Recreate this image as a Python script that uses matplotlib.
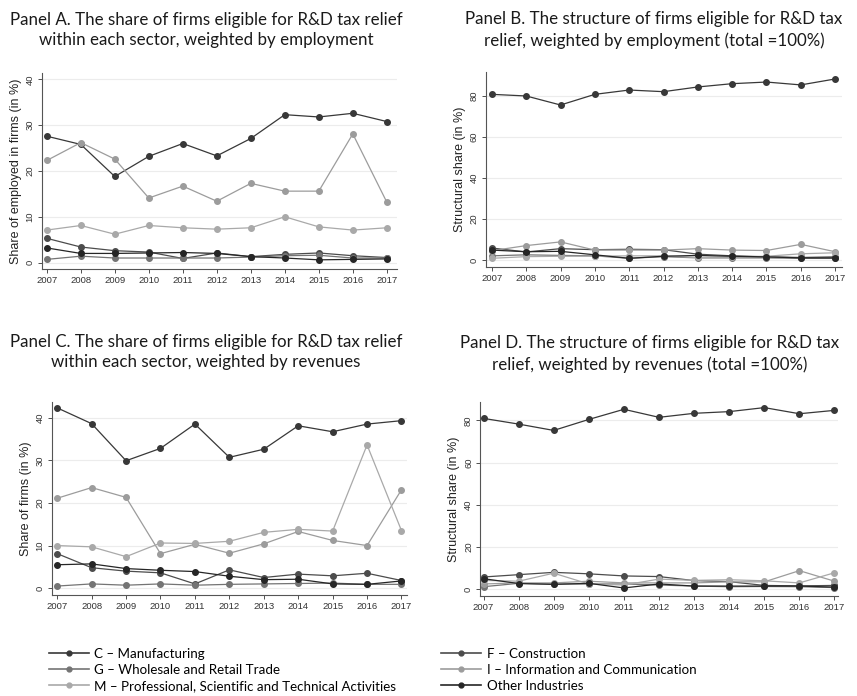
import matplotlib
matplotlib.use("Agg")
import matplotlib.pyplot as plt
from matplotlib.lines import Line2D

W, H = 857, 696
years = list(range(2007, 2018))

sectors = ["C – Manufacturing", "F – Construction", "G – Wholesale and Retail Trade",
           "I – Information and Communication",
           "M – Professional, Scientific and Technical Activities", "Other Industries"]
colors = ["#383838", "#4c4c4c", "#747474", "#9c9c9c", "#a9a9a9", "#262626"]

# Panel A: share within sector, weighted by employment
a_C = [27.6, 25.8, 18.8, 23.2, 26.0, 23.3, 27.1, 32.3, 31.8, 32.6, 30.8]
a_F = [5.3, 3.4, 2.6, 2.3, 0.9, 2.1, 1.3, 1.8, 2.1, 1.5, 1.1]
a_G = [0.7, 1.4, 1.0, 1.0, 1.0, 1.0, 1.2, 1.5, 1.6, 1.0, 1.0]
a_I = [22.3, 26.2, 22.6, 14.1, 16.7, 13.4, 17.3, 15.6, 15.6, 28.1, 13.2]
a_M = [7.1, 8.1, 6.2, 8.1, 7.6, 7.3, 7.6, 10.0, 7.8, 7.1, 7.6]
a_O = [3.2, 2.0, 2.0, 2.1, 2.2, 2.0, 1.3, 1.0, 0.6, 0.7, 0.8]

# Panel B: structure, weighted by employment
b_C = [80.8, 80.0, 75.6, 80.8, 82.9, 82.1, 84.4, 86.0, 86.8, 85.4, 88.3]
b_F = [5.8, 3.9, 5.5, 5.0, 5.2, 5.0, 2.8, 2.0, 1.5, 1.2, 1.5]
b_G = [2.0, 2.5, 2.2, 2.0, 0.8, 1.6, 1.0, 1.0, 1.0, 0.8, 0.8]
b_I = [4.5, 7.0, 8.8, 4.8, 4.8, 4.8, 5.5, 4.8, 4.6, 7.6, 4.0]
b_M = [0.8, 1.6, 1.8, 1.8, 2.0, 2.0, 1.2, 1.5, 1.8, 3.0, 3.5]
b_O = [4.8, 4.0, 4.2, 2.5, 0.8, 1.8, 2.2, 1.8, 1.5, 1.0, 1.0]

# Panel C: share within sector, weighted by revenues
c_C = [42.3, 38.6, 29.9, 32.8, 38.5, 30.7, 32.6, 38.1, 36.7, 38.5, 39.3]
c_F = [8.1, 4.8, 4.0, 3.6, 1.0, 4.3, 2.5, 3.3, 2.9, 3.5, 1.8]
c_G = [0.5, 1.0, 0.7, 1.0, 0.7, 0.9, 1.0, 1.1, 1.2, 0.9, 0.9]
c_I = [21.1, 23.6, 21.3, 8.1, 10.3, 8.2, 10.4, 13.3, 11.2, 10.0, 23.1]
c_M = [10.0, 9.7, 7.4, 10.6, 10.5, 11.0, 13.1, 13.8, 13.4, 33.6, 13.5]
c_O = [5.5, 5.7, 4.6, 4.2, 3.9, 2.8, 2.0, 2.1, 1.0, 0.9, 1.7]

# Panel D: structure, weighted by revenues
d_C = [80.9, 78.2, 75.2, 80.4, 85.2, 81.4, 83.3, 84.1, 86.0, 83.1, 84.7]
d_F = [5.8, 6.9, 8.0, 7.3, 6.3, 6.0, 4.1, 3.6, 1.8, 1.6, 1.8]
d_G = [1.2, 2.8, 2.5, 2.5, 2.5, 2.0, 1.5, 1.2, 1.3, 1.2, 0.8]
d_I = [2.5, 3.0, 3.0, 3.8, 3.0, 3.0, 3.0, 3.5, 3.5, 8.8, 3.8]
d_M = [4.2, 3.8, 7.6, 2.5, 2.0, 4.8, 4.2, 4.5, 4.0, 3.0, 7.8]
d_O = [5.0, 2.7, 2.3, 2.8, 0.6, 2.5, 1.5, 1.5, 1.5, 1.5, 1.0]

panels = [
    dict(series=[a_C, a_F, a_G, a_I, a_M, a_O], box=(41.7, 73, 397, 269),
         xlim=(2006.85, 2017.3), ylim=(-1.4, 41.4), yticks=[0, 10, 20, 30, 40],
         ylabel="Share of employed in firms (in %)",
         title="Panel A. The share of firms eligible for R&D tax relief\nwithin each sector, weighted by employment",
         tpos=(206, 30)),
    dict(series=[b_C, b_F, b_G, b_I, b_M, b_O], box=(485.7, 72, 842, 266.7),
         xlim=(2006.82, 2017.2), ylim=(-3.3, 91.7), yticks=[0, 20, 40, 60, 80],
         ylabel="Structural share (in %)",
         title="Panel B. The structure of firms eligible for R&D tax\nrelief, weighted by employment (total =100%)",
         tpos=(654, 30)),
    dict(series=[c_C, c_F, c_G, c_I, c_M, c_O], box=(51.7, 401.7, 407, 595),
         xlim=(2006.84, 2017.16), ylim=(-1.6, 43.75), yticks=[0, 10, 20, 30, 40],
         ylabel="Share of firms (in %)",
         title="Panel C. The share of firms eligible for R&D tax relief\nwithin each sector, weighted by revenues",
         tpos=(206, 352)),
    dict(series=[d_C, d_F, d_G, d_I, d_M, d_O], box=(480, 401.7, 838, 596),
         xlim=(2006.9, 2017.1), ylim=(-3.2, 88.8), yticks=[0, 20, 40, 60, 80],
         ylabel="Structural share (in %)",
         title="Panel D. The structure of firms eligible for R&D tax\nrelief, weighted by revenues (total =100%)",
         tpos=(650, 354)),
]

fig = plt.figure(figsize=(W / 100, H / 100), dpi=100)

for p in panels:
    x0, y0, x1, y1 = p["box"]
    ax = fig.add_axes([x0 / W, (H - y1) / H, (x1 - x0) / W, (y1 - y0) / H])
    for vals, col in zip(p["series"], colors):
        ax.plot(years, vals, color=col, lw=0.9, marker="o", ms=4, mfc=col, mec=col, zorder=3)
    ax.set_xlim(*p["xlim"])
    ax.set_ylim(*p["ylim"])
    ax.set_xticks(years)
    ax.set_yticks(p["yticks"])
    ax.tick_params(axis="both", labelsize=6.8, colors="#333333", length=3, width=0.6, pad=2)
    for lab in ax.get_yticklabels():
        lab.set_rotation(90)
        lab.set_va("center")
    ax.grid(axis="y", color="#ececec", lw=0.8)
    ax.set_axisbelow(True)
    for s in ["top", "right"]:
        ax.spines[s].set_visible(False)
    for s in ["left", "bottom"]:
        ax.spines[s].set_color("#555555")
        ax.spines[s].set_linewidth(0.8)
    ax.set_ylabel(p["ylabel"], fontsize=9, color="#222222", family="Liberation Sans", labelpad=3)
    for lab in ax.get_xticklabels() + ax.get_yticklabels():
        lab.set_family("Liberation Sans")
    fig.text(p["tpos"][0] / W, 1 - p["tpos"][1] / H, p["title"], ha="center", va="center",
             fontsize=12.2, family="Lato", color="#1a1a1a", linespacing=1.35)

# legend
handles = [Line2D([], [], color=c, lw=1.2, marker="o", ms=3.5, mfc=c, mec=c) for c in colors]
order = [0, 2, 4, 1, 3, 5]
leg = fig.legend([handles[i] for i in order], [sectors[i] for i in order], ncol=2,
                 loc="upper left", bbox_to_anchor=(42 / W, 1 - 641 / H), frameon=False,
                 prop={"family": "Lato", "size": 9.6}, handlelength=3.0, handletextpad=0.4,
                 columnspacing=3.4, labelspacing=0.3, borderpad=0)

fig.savefig("out.png", dpi=100, facecolor="white")
